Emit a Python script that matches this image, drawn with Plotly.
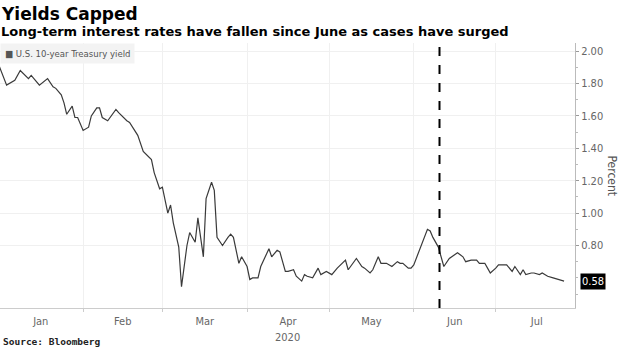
import plotly.graph_objects as go

dates = [
    "2020-01-01", "2020-01-04", "2020-01-07", "2020-01-09", "2020-01-12", "2020-01-13",
    "2020-01-16", "2020-01-19", "2020-01-21", "2020-01-22", "2020-01-24", "2020-01-25",
    "2020-01-26", "2020-01-28", "2020-01-29", "2020-01-30", "2020-02-01", "2020-02-03",
    "2020-02-04", "2020-02-06", "2020-02-07", "2020-02-08", "2020-02-10", "2020-02-13",
    "2020-02-14", "2020-02-17", "2020-02-18", "2020-02-21", "2020-02-23", "2020-02-25",
    "2020-02-26", "2020-02-27", "2020-02-29", "2020-03-01", "2020-03-03", "2020-03-04",
    "2020-03-05", "2020-03-07", "2020-03-08", "2020-03-10", "2020-03-11", "2020-03-13",
    "2020-03-14", "2020-03-16", "2020-03-17", "2020-03-19", "2020-03-20", "2020-03-21",
    "2020-03-23", "2020-03-25", "2020-03-26", "2020-03-27", "2020-03-29", "2020-03-30",
    "2020-04-01", "2020-04-02", "2020-04-03", "2020-04-05", "2020-04-06", "2020-04-09",
    "2020-04-10", "2020-04-12", "2020-04-13", "2020-04-15", "2020-04-16", "2020-04-18",
    "2020-04-19", "2020-04-21", "2020-04-22", "2020-04-23", "2020-04-25", "2020-04-27",
    "2020-04-28", "2020-04-30", "2020-05-02", "2020-05-04", "2020-05-07", "2020-05-08",
    "2020-05-11", "2020-05-13", "2020-05-14", "2020-05-16", "2020-05-17", "2020-05-19",
    "2020-05-20", "2020-05-21", "2020-05-22", "2020-05-24", "2020-05-26", "2020-05-27",
    "2020-05-28", "2020-05-30", "2020-05-31", "2020-06-01", "2020-06-03", "2020-06-06",
    "2020-06-07", "2020-06-08", "2020-06-10", "2020-06-11", "2020-06-12", "2020-06-14",
    "2020-06-17", "2020-06-19", "2020-06-20", "2020-06-22", "2020-06-24", "2020-06-25",
    "2020-06-27", "2020-06-28", "2020-06-29", "2020-07-01", "2020-07-02", "2020-07-04",
    "2020-07-05", "2020-07-07", "2020-07-08", "2020-07-10", "2020-07-11", "2020-07-12",
    "2020-07-14", "2020-07-15", "2020-07-17", "2020-07-18", "2020-07-20", "2020-07-22",
    "2020-07-24", "2020-07-25", "2020-07-26",
]
yields = [
    1.92, 1.79, 1.82, 1.88, 1.83, 1.85,
    1.79, 1.83, 1.78, 1.77, 1.73, 1.68,
    1.61, 1.66, 1.59, 1.59, 1.51, 1.53,
    1.60, 1.65, 1.65, 1.59, 1.57, 1.64,
    1.62, 1.57, 1.56, 1.48, 1.38, 1.35,
    1.33, 1.25, 1.15, 1.16, 1.00, 1.05,
    0.94, 0.79, 0.545, 0.80, 0.88, 0.82,
    0.97, 0.73, 1.09, 1.19, 1.14, 0.85,
    0.80, 0.85, 0.87, 0.85, 0.69, 0.73,
    0.67, 0.59, 0.60, 0.60, 0.67, 0.78,
    0.73, 0.77, 0.76, 0.64, 0.64, 0.65,
    0.61, 0.58, 0.62, 0.61, 0.60, 0.66,
    0.62, 0.64, 0.62, 0.66, 0.71, 0.65,
    0.72, 0.67, 0.66, 0.63, 0.65, 0.73,
    0.69, 0.69, 0.69, 0.67, 0.70, 0.69,
    0.69, 0.66, 0.66, 0.68, 0.77, 0.90,
    0.89, 0.85, 0.79, 0.73, 0.67, 0.72,
    0.755, 0.73, 0.70, 0.71, 0.71, 0.69,
    0.69, 0.66, 0.63, 0.66, 0.68, 0.68,
    0.68, 0.64, 0.67, 0.62, 0.65, 0.62,
    0.63, 0.63, 0.62, 0.63, 0.61, 0.60,
    0.59, 0.585, 0.58,
]
series_name = "U.S. 10-year Treasury yield"
marker_date = "2020-06-10 10:00"
last_label = "0.58"
y_ticks = [0.8, 1.0, 1.2, 1.4, 1.6, 1.8, 2.0]

title = "Yields Capped"
subtitle = "Long-term interest rates have fallen since June as cases have surged"
source = "Source: Bloomberg"

fig = go.Figure()
fig.add_trace(go.Scatter(
    x=dates, y=yields, mode="lines", name=series_name,
    line=dict(color="#3a3a3a", width=1.2), showlegend=False,
))

fig.add_shape(type="line", xref="x", yref="paper", x0=marker_date, x1=marker_date,
              y0=0, y1=1, line=dict(color="#000000", width=2, dash="dash"))

cond = "DejaVu Sans Condensed, Liberation Sans Narrow, Roboto, sans-serif"
tick_font = dict(family=cond, size=11, color="#666666")

fig.update_layout(
    width=620, height=348,
    margin=dict(l=0, r=45, t=43, b=40),
    paper_bgcolor="white", plot_bgcolor="white",
    xaxis=dict(
        type="date",
        range=["2020-01-01 14:00", "2020-07-30"],
        dtick="M1", tick0="2020-01-01",
        tickformat="%b", ticklabelmode="period",
        showgrid=True, gridcolor="#f0f0f0", gridwidth=1,
        showline=True, linecolor="#cccccc", linewidth=1,
        ticks="outside", ticklen=3, tickcolor="#cccccc",
        tickfont=tick_font,
        zeroline=False,
    ),
    yaxis=dict(
        side="right", range=[0.414, 2.05],
        tickvals=y_ticks, tickformat=".2f",
        showgrid=True, gridcolor="#f0f0f0", gridwidth=1,
        showline=True, linecolor="#bbbbbb", linewidth=1,
        ticks="outside", ticklen=3, tickcolor="#999999",
        minor=dict(dtick=0.1, tick0=0, ticks="outside", ticklen=2, tickcolor="#bbbbbb", showgrid=False),
        tickfont=tick_font,
        zeroline=False,
    ),
    annotations=[
        dict(text="<b>" + title + "</b>", xref="paper", yref="paper", x=0, y=1.109,
             xanchor="left", yanchor="middle", showarrow=False,
             font=dict(family="DejaVu Sans", size=17, color="#000000"), xshift=-1),
        dict(text="<b>" + subtitle + "</b>", xref="paper", yref="paper", x=0, y=1.045,
             xanchor="left", yanchor="middle", showarrow=False,
             font=dict(family="DejaVu Sans", size=13, color="#000000"), xshift=-1),
        dict(text="■ " + series_name, xref="paper", yref="paper", x=0, y=1.0,
             xanchor="left", yanchor="top", showarrow=False,
             bgcolor="#f3f3f3", borderpad=4,
             font=dict(family=cond, size=9.5, color="#555555")),
        dict(text="2020", xref="paper", yref="paper", x=0.5, y=-0.078,
             xanchor="center", yanchor="top", showarrow=False, font=tick_font),
        dict(text="<b>" + source + "</b>", xref="paper", yref="paper", x=0, y=-0.097,
             xanchor="left", yanchor="top", showarrow=False, xshift=1,
             font=dict(family="DejaVu Sans Mono, monospace", size=9.5, color="#222222")),
        dict(text="Percent", xref="paper", yref="paper", x=1.0, y=0.5, xshift=37,
             xanchor="center", yanchor="middle", textangle=90, showarrow=False,
             font=dict(family=cond, size=12, color="#555555")),
        dict(text=last_label, xref="paper", yref="y", x=1.0, y=yields[-1], xshift=5,
             xanchor="left", yanchor="middle", showarrow=False,
             bgcolor="#000000", borderpad=1,
             font=dict(family=cond, size=11, color="#ffffff")),
    ],
)

fig.write_html("out.html")
